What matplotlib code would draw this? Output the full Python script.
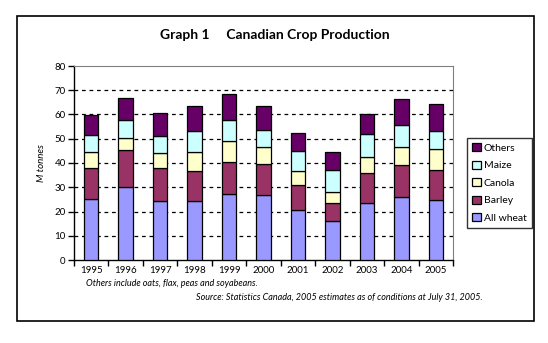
import numpy as np
import matplotlib.pyplot as plt
from matplotlib.patches import Rectangle

plt.rcParams['font.family'] = ['Lato', 'DejaVu Sans']

# Data (M tonnes)
years = ['1995', '1996', '1997', '1998', '1999', '2000', '2001', '2002', '2003', '2004', '2005']
wheat = [25.1, 30.0, 24.2, 24.2, 27.1, 26.7, 20.6, 16.0, 23.4, 26.0, 24.7]
barley = [12.7, 15.2, 13.6, 12.4, 13.2, 12.8, 10.5, 7.7, 12.4, 13.0, 12.3]
canola = [6.6, 5.3, 6.2, 7.8, 8.6, 7.3, 5.5, 4.2, 6.5, 7.8, 8.6]
maize = [7.2, 7.4, 7.2, 9.0, 9.0, 7.0, 8.2, 9.1, 9.5, 8.7, 7.8]
others = [8.0, 9.1, 9.6, 10.3, 10.5, 9.9, 7.4, 7.4, 8.6, 10.7, 11.1]

series = [
    ('All wheat', wheat, '#9999FF'),
    ('Barley', barley, '#993366'),
    ('Canola', canola, '#FFFFCC'),
    ('Maize', maize, '#CCFFFF'),
    ('Others', others, '#660066'),
]

W, H = 548, 343
fig = plt.figure(figsize=(W / 100, H / 100), dpi=100)

# outer frame
fig.patches.append(Rectangle((17 / W, 1 - 321 / H), 517 / W, 305 / H,
                             transform=fig.transFigure, fill=False,
                             edgecolor='black', linewidth=1.2))

fig.text(275 / W, 1 - 35 / H, 'Graph 1     Canadian Crop Production',
         ha='center', va='center', fontsize=10, fontweight='bold')

ax = fig.add_axes([74 / W, 1 - 260 / H, 379 / W, 194 / H])

x = np.arange(len(years))
bottom = np.zeros(len(years))
handles = []
for name, vals, color in series:
    b = ax.bar(x, vals, 0.42, bottom=bottom, color=color, edgecolor='black',
               linewidth=0.9, label=name, zorder=3)
    handles.append(b)
    bottom += np.array(vals)

ax.set_xlim(-0.5, len(years) - 0.5)
ax.set_ylim(0, 80)
ax.set_yticks(range(0, 81, 10))
ax.set_yticklabels([str(v) for v in range(0, 81, 10)], fontsize=7)
ax.set_xticks(x)
ax.set_xticklabels(years, fontsize=7)
ax.set_xticks(np.arange(-0.5, len(years)), minor=True)
ax.tick_params(axis='x', which='major', length=0, pad=4)
ax.tick_params(axis='x', which='minor', length=4, direction='out', width=1)
ax.tick_params(axis='y', length=4, direction='out', width=1, pad=2)

for v in range(10, 80, 10):
    ax.axhline(v, color='black', linestyle=(0, (3, 3)), linewidth=0.9, zorder=1)

ax.spines['top'].set_color('#808080')
ax.spines['right'].set_color('#808080')
ax.spines['left'].set_linewidth(1)
ax.spines['bottom'].set_linewidth(1)

ax.set_ylabel('M tonnes', fontsize=7, style='italic', labelpad=6)

leg = fig.legend(handles[::-1], [s[0] for s in series][::-1],
                 loc='upper left', bbox_to_anchor=(462 / W, 1 - 133 / H),
                 fontsize=7.5, frameon=True, fancybox=False, edgecolor='black',
                 handlelength=0.8, handleheight=0.8, handletextpad=0.3,
                 labelspacing=0.75, borderpad=0.5)
leg.get_frame().set_linewidth(1)

fig.text(86 / W, 1 - 283 / H, 'Others include oats, flax, peas and soyabeans.',
         fontsize=6.5, style='italic', ha='left', va='center')
fig.text(483 / W, 1 - 298 / H,
         'Source: Statistics Canada, 2005 estimates as of conditions at July 31, 2005.',
         fontsize=6.5, style='italic', ha='right', va='center')

fig.savefig('out.png', dpi=100)
